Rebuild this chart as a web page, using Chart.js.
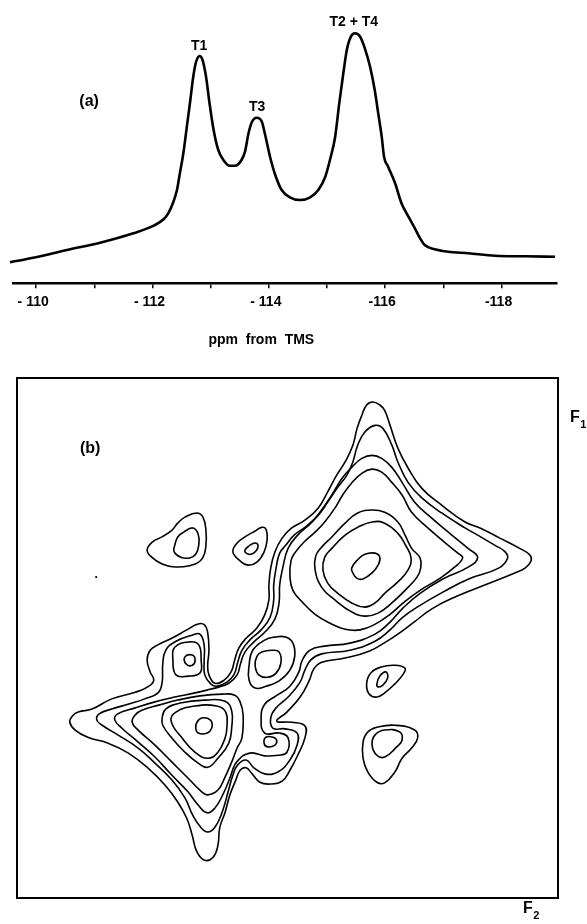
<!DOCTYPE html>
<html><head><meta charset="utf-8">
<script src="https://cdn.jsdelivr.net/npm/chart.js@4.4.1/dist/chart.umd.min.js"></script>
<style>
html,body{margin:0;padding:0;background:#fff;}
#wrap{position:relative;width:587px;height:924px;overflow:hidden;background:#fff;}
#c1{position:absolute;left:0;top:0;width:587px;height:360px;}
#c2{position:absolute;left:0;top:360px;width:587px;height:564px;}
</style></head><body>
<div id="wrap"><canvas id="c1" width="587" height="360"></canvas><canvas id="c2" width="587" height="564"></canvas></div>
<script>
// ---------- (a) 1D spectrum ----------
const spectrumPpm = [-109.55,-109.95,-110.53,-111.10,-111.67,-112.02,-112.19,-112.27,-112.36,-112.42,-112.47,-112.53,-112.59,-112.65,-112.70,-112.75,-112.81,-112.86,-112.92,-112.98,-113.05,-113.13,-113.23,-113.33,-113.42,-113.53,-113.59,-113.65,-113.71,-113.79,-113.88,-113.93,-114.02,-114.11,-114.22,-114.36,-114.54,-114.71,-114.85,-114.97,-115.05,-115.14,-115.21,-115.28,-115.34,-115.41,-115.48,-115.57,-115.65,-115.74,-115.82,-115.88,-115.94,-115.98,-116.05,-116.17,-116.28,-116.40,-116.51,-116.60,-116.68,-116.85,-117.08,-117.43,-117.89,-118.40,-118.92];
const spectrumIntensity = [7.98,9.72,12.65,15.42,18.99,21.88,24.31,26.59,30.99,35.43,41.78,49.37,59.48,69.62,78.47,84.16,86.33,84.81,78.47,68.36,58.22,50.63,46.45,44.66,44.66,46.83,49.98,56.97,61.37,62.89,61.37,56.97,48.08,41.13,35.43,32.66,31.64,32.66,35.43,40.49,46.83,55.68,68.36,79.76,88.61,93.66,94.95,93.66,89.25,82.26,73.41,64.57,55.68,48.08,44.28,37.98,30.38,25.29,20.89,17.09,14.55,12.91,12.00,11.39,10.48,10.25,10.10];
const tickValues = [-110,-112,-114,-116,-118];
const tickLabels = ['- 110','- 112','- 114','-116','-118'];
const peakNames = ['T1','T3','T2 + T4'];
const peakNamePpm = [-112.80,-113.80,-115.46];
const peakNameHeight = [90.1,67.0,99.2];

// ---------- (b) 2D contour map: [F2 ppm, F1 ppm] ----------
const ridgeL1 = [[-110.58,-112.88],[-110.62,-112.98],[-110.72,-113.05],[-110.95,-113.10],[-111.28,-113.27],[-111.67,-113.38],[-111.88,-113.47],[-111.98,-113.58],[-111.92,-113.72],[-111.87,-113.92],[-111.92,-114.08],[-112.05,-114.17],[-112.28,-114.28],[-112.53,-114.42],[-112.72,-114.52],[-112.83,-114.50],[-112.88,-114.37],[-112.90,-114.08],[-112.88,-113.83],[-112.90,-113.67],[-113.00,-113.53],[-113.15,-113.58],[-113.27,-113.72],[-113.33,-113.92],[-113.40,-114.12],[-113.52,-114.28],[-113.70,-114.45],[-113.83,-114.67],[-113.90,-114.92],[-113.90,-115.17],[-113.93,-115.45],[-114.00,-115.72],[-114.12,-115.95],[-114.28,-116.12],[-114.50,-116.25],[-114.72,-116.45],[-114.88,-116.72],[-115.03,-117.00],[-115.17,-117.22],[-115.30,-117.50],[-115.37,-117.78],[-115.45,-118.00],[-115.53,-118.17],[-115.63,-118.22],[-115.75,-118.17],[-115.83,-118.08],[-115.92,-117.83],[-116.05,-117.45],[-116.22,-117.12],[-116.45,-116.78],[-116.78,-116.50],[-117.17,-116.22],[-117.42,-116.12],[-117.75,-115.95],[-118.08,-115.78],[-118.25,-115.67],[-118.27,-115.57],[-118.17,-115.45],[-118.00,-115.37],[-117.53,-115.18],[-117.03,-114.98],[-116.63,-114.78],[-116.32,-114.55],[-116.05,-114.35],[-115.85,-114.22],[-115.58,-114.07],[-115.17,-113.95],[-114.78,-113.88],[-114.65,-113.77],[-114.57,-113.57],[-114.42,-113.30],[-114.20,-113.05],[-114.03,-112.90],[-114.28,-112.88],[-114.50,-112.82],[-114.50,-112.62],[-114.38,-112.33],[-114.25,-112.08],[-114.12,-111.90],[-113.92,-111.85],[-113.75,-111.88],[-113.62,-112.02],[-113.52,-112.12],[-113.42,-112.08],[-113.35,-111.92],[-113.25,-111.67],[-113.17,-111.38],[-113.08,-111.12],[-113.05,-110.83],[-112.97,-110.63],[-112.83,-110.58],[-112.70,-110.72],[-112.62,-111.00],[-112.53,-111.28],[-112.38,-111.55],[-112.17,-111.83],[-111.88,-112.12],[-111.55,-112.37],[-111.22,-112.53],[-110.88,-112.63],[-110.67,-112.75]];
const ridgeL2 = [[-111.03,-112.92],[-111.07,-113.02],[-111.28,-113.10],[-111.55,-113.18],[-111.83,-113.27],[-112.05,-113.37],[-112.12,-113.55],[-112.13,-113.85],[-112.18,-114.08],[-112.35,-114.23],[-112.62,-114.33],[-112.75,-114.35],[-112.82,-114.17],[-112.82,-113.88],[-112.83,-113.67],[-112.93,-113.52],[-113.03,-113.48],[-113.20,-113.55],[-113.32,-113.68],[-113.38,-113.88],[-113.45,-114.08],[-113.58,-114.25],[-113.77,-114.42],[-113.92,-114.63],[-113.98,-114.92],[-113.98,-115.17],[-114.02,-115.45],[-114.08,-115.70],[-114.18,-115.83],[-114.32,-116.00],[-114.50,-116.13],[-114.72,-116.33],[-114.88,-116.55],[-115.05,-116.80],[-115.20,-117.00],[-115.30,-117.22],[-115.38,-117.50],[-115.50,-117.72],[-115.67,-117.83],[-115.80,-117.78],[-115.95,-117.50],[-116.05,-117.22],[-116.22,-116.88],[-116.45,-116.62],[-116.78,-116.37],[-117.17,-116.12],[-117.38,-116.00],[-117.67,-115.83],[-117.83,-115.73],[-117.88,-115.62],[-117.73,-115.45],[-117.23,-115.27],[-116.80,-115.05],[-116.42,-114.83],[-116.13,-114.63],[-115.92,-114.42],[-115.67,-114.23],[-115.25,-114.08],[-114.78,-114.02],[-114.60,-113.92],[-114.50,-113.75],[-114.42,-113.55],[-114.22,-113.30],[-114.02,-113.12],[-113.93,-112.95],[-113.97,-112.78],[-114.17,-112.77],[-114.37,-112.70],[-114.37,-112.50],[-114.25,-112.25],[-114.05,-112.05],[-113.83,-112.02],[-113.65,-112.12],[-113.52,-112.25],[-113.38,-112.17],[-113.30,-112.00],[-113.22,-111.72],[-113.12,-111.38],[-113.00,-111.13],[-112.88,-111.05],[-112.77,-111.12],[-112.63,-111.33],[-112.50,-111.62],[-112.28,-111.92],[-112.00,-112.20],[-111.72,-112.45],[-111.38,-112.67],[-111.12,-112.83]];
const ridgeL3 = [[-111.33,-112.92],[-111.38,-113.02],[-111.67,-113.12],[-112.00,-113.22],[-112.33,-113.30],[-112.67,-113.37],[-112.92,-113.43],[-113.07,-113.47],[-113.23,-113.53],[-113.37,-113.67],[-113.43,-113.87],[-113.50,-114.05],[-113.65,-114.22],[-113.83,-114.38],[-114.00,-114.60],[-114.07,-114.88],[-114.08,-115.17],[-114.13,-115.45],[-114.22,-115.78],[-114.38,-116.00],[-114.62,-116.22],[-114.80,-116.45],[-114.95,-116.67],[-115.12,-116.95],[-115.28,-117.13],[-115.45,-117.28],[-115.62,-117.33],[-115.78,-117.28],[-115.95,-117.13],[-116.12,-116.88],[-116.33,-116.55],[-116.62,-116.28],[-116.95,-116.00],[-117.22,-115.78],[-117.38,-115.63],[-117.23,-115.47],[-116.80,-115.27],[-116.42,-115.03],[-116.13,-114.78],[-115.92,-114.55],[-115.67,-114.35],[-115.25,-114.20],[-114.83,-114.15],[-114.58,-114.08],[-114.45,-113.90],[-114.40,-113.72],[-114.25,-113.48],[-114.02,-113.32],[-113.83,-113.18],[-113.77,-112.95],[-113.83,-112.70],[-114.08,-112.70],[-114.22,-112.62],[-114.20,-112.38],[-114.05,-112.33],[-113.83,-112.32],[-113.62,-112.37],[-113.48,-112.33],[-113.42,-112.28],[-113.33,-112.17],[-113.25,-111.95],[-113.13,-111.67],[-113.00,-111.45],[-112.87,-111.37],[-112.72,-111.50],[-112.55,-111.72],[-112.28,-112.00],[-112.00,-112.30],[-111.72,-112.55],[-111.45,-112.78]];
const t2L4 = [[-115.62,-117.10],[-115.78,-117.05],[-115.95,-116.88],[-116.12,-116.67],[-116.28,-116.38],[-116.55,-116.12],[-116.83,-115.88],[-117.05,-115.70],[-117.13,-115.62],[-117.00,-115.47],[-116.75,-115.28],[-116.42,-115.08],[-116.15,-114.88],[-115.92,-114.68],[-115.68,-114.52],[-115.42,-114.42],[-115.17,-114.43],[-114.92,-114.53],[-114.67,-114.68],[-114.47,-114.87],[-114.30,-115.08],[-114.25,-115.33],[-114.27,-115.58],[-114.33,-115.70],[-114.47,-115.87],[-114.67,-116.05],[-114.83,-116.22],[-115.00,-116.45],[-115.13,-116.67],[-115.28,-116.87],[-115.45,-117.03]];
const t2L5 = [[-115.62,-116.42],[-115.83,-116.38],[-116.05,-116.22],[-116.17,-116.00],[-116.28,-115.78],[-116.42,-115.62],[-116.43,-115.45],[-116.37,-115.30],[-116.17,-115.08],[-115.95,-114.87],[-115.72,-114.70],[-115.50,-114.65],[-115.28,-114.72],[-115.00,-114.92],[-114.78,-115.13],[-114.67,-115.42],[-114.68,-115.65],[-114.78,-115.80],[-114.95,-115.97],[-115.17,-116.20],[-115.38,-116.37]];
const t2L6 = [[-115.62,-116.22],[-115.83,-116.20],[-116.05,-116.03],[-116.18,-115.83],[-116.27,-115.62],[-116.22,-115.42],[-116.05,-115.22],[-115.83,-115.03],[-115.67,-114.87],[-115.50,-114.80],[-115.28,-114.87],[-115.05,-115.03],[-114.88,-115.20],[-114.80,-115.42],[-114.83,-115.63],[-114.95,-115.78],[-115.17,-116.00],[-115.38,-116.13]];
const t2L7 = [[-115.28,-115.45],[-115.37,-115.58],[-115.50,-115.68],[-115.67,-115.70],[-115.75,-115.63],[-115.72,-115.50],[-115.62,-115.37],[-115.47,-115.27],[-115.37,-115.28],[-115.30,-115.37]];
const t1L4 = [[-111.62,-112.88],[-111.67,-113.00],[-111.78,-113.08],[-112.08,-113.17],[-112.38,-113.25],[-112.75,-113.32],[-113.12,-113.35],[-113.33,-113.33],[-113.42,-113.22],[-113.47,-113.00],[-113.45,-112.62],[-113.37,-112.45],[-113.28,-112.22],[-113.17,-111.97],[-113.05,-111.75],[-112.88,-111.67],[-112.78,-111.72],[-112.55,-111.95],[-112.28,-112.22],[-112.00,-112.50],[-111.72,-112.75]];
const t1L5 = [[-112.12,-112.95],[-112.18,-113.10],[-112.42,-113.20],[-112.85,-113.25],[-113.17,-113.23],[-113.28,-113.07],[-113.28,-112.80],[-113.23,-112.53],[-113.05,-112.28],[-112.88,-112.13],[-112.72,-112.20],[-112.50,-112.38],[-112.28,-112.62],[-112.13,-112.83]];
const t1L6 = [[-112.27,-112.90],[-112.35,-113.05],[-112.67,-113.15],[-113.03,-113.15],[-113.18,-113.05],[-113.20,-112.80],[-113.17,-112.62],[-113.05,-112.38],[-112.88,-112.28],[-112.67,-112.38],[-112.45,-112.62]];
const t1L7 = [[-112.70,-112.88],[-112.78,-112.95],[-112.92,-112.92],[-112.95,-112.80],[-112.87,-112.70],[-112.72,-112.70],[-112.68,-112.78]];
const c13Outer = [[-112.33,-114.13],[-112.58,-114.22],[-112.73,-114.17],[-112.77,-113.92],[-112.75,-113.70],[-112.55,-113.65],[-112.35,-113.67],[-112.30,-113.92]];
const c13Inner = [[-112.50,-113.97],[-112.62,-114.00],[-112.67,-113.92],[-112.62,-113.83],[-112.52,-113.85]];
const t3Outer = [[-113.83,-114.25],[-114.00,-114.30],[-114.18,-114.30],[-114.30,-114.20],[-114.33,-113.98],[-114.25,-113.75],[-114.07,-113.57],[-113.85,-113.48],[-113.67,-113.45],[-113.57,-113.58],[-113.57,-113.83],[-113.63,-114.08]];
const t3Inner = [[-113.78,-114.05],[-113.95,-114.08],[-114.07,-114.05],[-114.10,-113.87],[-114.02,-113.70],[-113.88,-113.63],[-113.73,-113.67],[-113.67,-113.83],[-113.70,-113.98]];
const c31Inner = [[-113.85,-112.63],[-113.97,-112.63],[-114.03,-112.58],[-114.00,-112.50],[-113.88,-112.47],[-113.82,-112.53]];
const crossAOuter = [[-111.87,-115.75],[-111.95,-115.88],[-112.13,-115.98],[-112.28,-116.08],[-112.38,-116.20],[-112.50,-116.30],[-112.70,-116.37],[-112.80,-116.30],[-112.85,-116.08],[-112.85,-115.83],[-112.80,-115.63],[-112.67,-115.52],[-112.33,-115.47],[-112.12,-115.52],[-111.95,-115.63]];
const crossAInner = [[-112.33,-115.83],[-112.38,-115.97],[-112.48,-116.05],[-112.63,-116.12],[-112.72,-116.02],[-112.73,-115.83],[-112.68,-115.68],[-112.58,-115.62],[-112.43,-115.63],[-112.32,-115.72]];
const crossBOuter = [[-113.30,-115.72],[-113.37,-115.87],[-113.50,-115.97],[-113.67,-116.07],[-113.78,-116.13],[-113.85,-116.10],[-113.87,-115.92],[-113.82,-115.72],[-113.70,-115.55],[-113.55,-115.50],[-113.42,-115.57]];
const crossBInner = [[-113.50,-115.75],[-113.57,-115.82],[-113.67,-115.87],[-113.72,-115.82],[-113.68,-115.73],[-113.60,-115.68],[-113.52,-115.70]];
const crossCOuter = [[-115.53,-113.53],[-115.60,-113.70],[-115.77,-113.80],[-116.00,-113.83],[-116.17,-113.78],[-116.13,-113.67],[-116.00,-113.52],[-115.83,-113.37],[-115.70,-113.30],[-115.57,-113.35]];
const crossCInner = [[-115.70,-113.52],[-115.75,-113.65],[-115.85,-113.72],[-115.88,-113.62],[-115.80,-113.50],[-115.72,-113.47]];
const crossDOuter = [[-115.47,-112.55],[-115.55,-112.72],[-115.72,-112.80],[-116.00,-112.83],[-116.33,-112.75],[-116.38,-112.62],[-116.28,-112.45],[-116.12,-112.28],[-116.00,-112.05],[-115.83,-111.87],[-115.70,-111.88],[-115.55,-112.05],[-115.47,-112.28]];
const crossDInner = [[-115.62,-112.50],[-115.67,-112.67],[-115.83,-112.75],[-116.08,-112.72],[-116.12,-112.58],[-116.03,-112.47],[-115.83,-112.30],[-115.70,-112.33]];
const noiseDot = [[-111.02,-115.30]];

const FONT = "'Liberation Sans', Arial, Helvetica, sans-serif";
Chart.defaults.font.family = FONT;
Chart.defaults.color = '#000';

const closeLoops = {
  id: 'closeLoops',
  afterDatasetUpdate(chart, args) {
    const ds = chart.data.datasets[args.index];
    const line = args.meta && args.meta.dataset;
    if (ds && ds.closed && line) {
      line._loop = true; line._fullLoop = true;
      line._segments = undefined; line._pointsUpdated = false; line._path = undefined;
    }
  }
};

const annotate = {
  id: 'annotate',
  afterDraw(chart, args, opts) {
    const ctx = chart.ctx, xs = chart.scales.x, ys = chart.scales.y, area = chart.chartArea;
    ctx.save();
    ctx.fillStyle = '#000'; ctx.strokeStyle = '#000';
    if (opts.frame) {
      ctx.lineWidth = 2;
      ctx.strokeRect(area.left, area.top, area.right - area.left, area.bottom - area.top);
    }
    (opts.items || []).forEach(it => {
      ctx.font = it.font;
      ctx.textAlign = 'center'; ctx.textBaseline = 'middle';
      const px = xs.getPixelForValue(it.x);
      const py = (it.y !== undefined) ? ys.getPixelForValue(it.y) : area.bottom + it.below;
      ctx.fillText(it.text, px, py);
    });
    (opts.axisNames || []).forEach(it => {
      const bx = it.fromRight !== undefined ? area.right + it.fromRight : area.left;
      const by = it.fromTop !== undefined ? area.top + it.fromTop : area.bottom + it.fromBottom;
      ctx.textAlign = 'left'; ctx.textBaseline = 'middle';
      ctx.font = 'bold 16px ' + FONT;
      ctx.fillText(it.main, bx, by);
      const w = ctx.measureText(it.main).width;
      ctx.font = 'bold 11px ' + FONT;
      ctx.fillText(it.sub, bx + w + 0.5, by + 7);
    });
    ctx.restore();
  }
};

// ---- chart (a)
new Chart(document.getElementById('c1'), {
  type: 'line',
  data: { datasets: [{
    data: spectrumPpm.map((p, i) => ({x: p, y: spectrumIntensity[i]})),
    borderColor: '#000', borderWidth: 2.6, pointRadius: 0,
    cubicInterpolationMode: 'monotone', fill: false, clip: 8
  }]},
  options: {
    responsive: false, animation: false, events: [],
    layout: { padding: { left: 13.5, right: 30.2, top: 20, bottom: 0 } },
    plugins: {
      legend: { display: false }, tooltip: { enabled: false },
      annotate: {
        items: peakNames.map((t, i) => ({ text: t, x: peakNamePpm[i], y: peakNameHeight[i], font: 'bold 14px ' + FONT }))
          .concat([
            { text: '(a)', x: -110.91, y: 69.2, font: 'bold 16px ' + FONT },
            { text: 'ppm  from  TMS', x: -113.87, below: 57, font: 'bold 14px ' + FONT }
          ])
      }
    },
    scales: {
      x: {
        type: 'linear', reverse: true, min: -118.95, max: -109.61,
        afterFit(s) { s.height = 76.7; },
        border: { display: true, color: '#000', width: 2.5 },
        grid: { display: true, drawOnChartArea: false, drawTicks: true, tickLength: 5, color: '#000', lineWidth: 1.5 },
        ticks: {
          stepSize: 1, autoSkip: false, includeBounds: false, maxRotation: 0, padding: 5, labelOffset: -3,
          color: '#000', font: { size: 14, weight: 'bold' },
          callback: (v) => {
            const r = Math.round(v);
            const i = tickValues.indexOf(r);
            return (i >= 0 && Math.abs(v - r) < 1e-6) ? tickLabels[i] : '';
          }
        }
      },
      y: { display: false, min: 0, max: 100 }
    }
  },
  plugins: [annotate]
});

// ---- chart (b)
const contourSets = [ridgeL1, ridgeL2, ridgeL3, t2L4, t2L5, t2L6, t2L7, t1L4, t1L5, t1L6, t1L7,
  c13Outer, c13Inner, t3Outer, t3Inner, c31Inner,
  crossAOuter, crossAInner, crossBOuter, crossBInner, crossCOuter, crossCInner, crossDOuter, crossDInner];

new Chart(document.getElementById('c2'), {
  type: 'line',
  data: { datasets: contourSets.map(c => ({
      data: c.map(([x, y]) => ({x, y})), closed: true, spanGaps: true,
      borderColor: '#000', borderWidth: 1.6, pointRadius: 0, tension: 0.45, fill: false
    })).concat([{
      data: noiseDot.map(([x, y]) => ({x, y})), showLine: false,
      pointRadius: 1.1, pointBackgroundColor: '#000', pointBorderWidth: 0
    }])
  },
  options: {
    responsive: false, animation: false, events: [],
    layout: { padding: { left: 17, right: 29, top: 18, bottom: 26 } },
    plugins: {
      legend: { display: false }, tooltip: { enabled: false },
      annotate: {
        frame: true,
        items: [{ text: '(b)', x: -110.92, y: -117.45, font: 'bold 16px ' + FONT }],
        axisNames: [
          { main: 'F', sub: '1', fromRight: 12, fromTop: 40 },
          { main: 'F', sub: '2', fromRight: -35, fromBottom: 11 }
        ]
      }
    },
    scales: {
      x: { type: 'linear', reverse: true, min: -118.72, max: -109.70, display: false },
      y: { type: 'linear', reverse: true, min: -118.62, max: -109.95, display: false }
    }
  },
  plugins: [closeLoops, annotate]
});
</script>
</body></html>
